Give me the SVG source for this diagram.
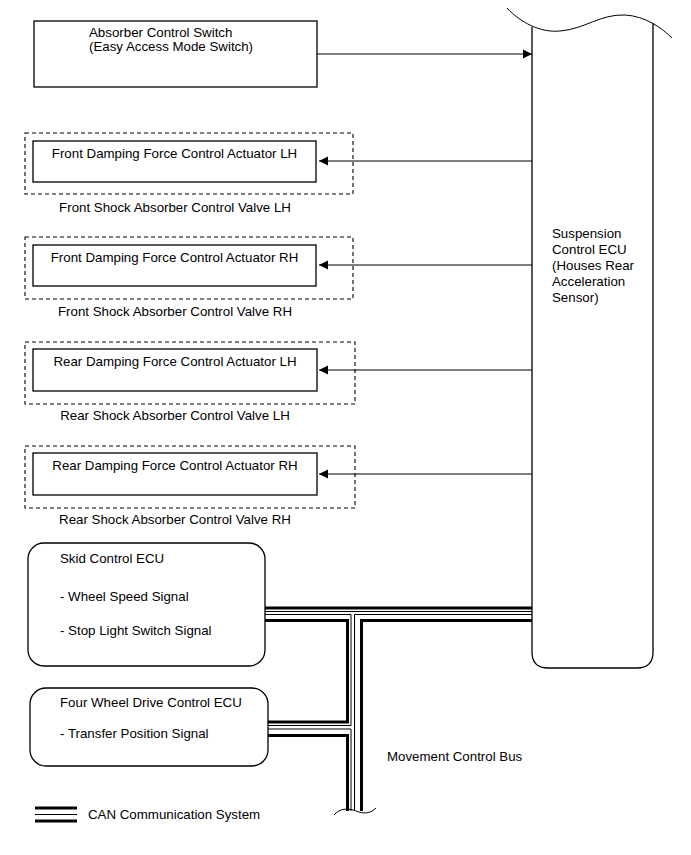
<svg xmlns="http://www.w3.org/2000/svg" width="691" height="855" viewBox="0 0 691 855">
<style>
text{font-family:"Liberation Sans",Arial,sans-serif;font-size:13.3px;fill:#000}
.box{fill:#fff;stroke:#000;stroke-width:1.3}
.dash{fill:none;stroke:#000;stroke-width:1.1;stroke-dasharray:4 3}
.ln{fill:none;stroke:#000;stroke-width:1}
.thick{fill:none;stroke:#000;stroke-width:3}
.thin{fill:none;stroke:#000;stroke-width:1}
.mid{text-anchor:middle}
</style>
<defs>
<marker id="ah" markerWidth="10" markerHeight="10" refX="9" refY="5" orient="auto" markerUnits="userSpaceOnUse">
<path d="M0,0.5 L9,5 L0,9.5 Z" fill="#000"/>
</marker>
</defs>
<rect width="691" height="855" fill="#fff"/>

<g id="switch">
<rect class="box" x="34" y="21" width="283" height="66"/>
<text x="89" y="37">Absorber Control Switch</text>
<text x="89" y="51">(Easy Access Mode Switch)</text>
</g>

<g id="ecu">
<path class="box" d="M532,27 L532,652 Q532,668 548,668 L637,668 Q653,668 653,652 L653,23"/>
<path class="ln" d="M507,8 C520,22 540,33 560,31 C585,29 600,14 625,15 C645,16 662,28 672,38"/>
<text x="552" y="238">Suspension</text>
<text x="552" y="254">Control ECU</text>
<text x="552" y="270">(Houses Rear</text>
<text x="552" y="286">Acceleration</text>
<text x="552" y="302">Sensor)</text>
</g>

<g id="front-lh">
<rect class="dash" x="25" y="133" width="328" height="61"/>
<rect class="box" x="33" y="141" width="283" height="41"/>
<text class="mid" x="174.5" y="158">Front Damping Force Control Actuator LH</text>
<text class="mid" x="175" y="212">Front Shock Absorber Control Valve LH</text>
</g>

<g id="front-rh">
<rect class="dash" x="25" y="237" width="328" height="62"/>
<rect class="box" x="33" y="245" width="283" height="41"/>
<text class="mid" x="174.5" y="262">Front Damping Force Control Actuator RH</text>
<text class="mid" x="175" y="316">Front Shock Absorber Control Valve RH</text>
</g>

<g id="rear-lh">
<rect class="dash" x="25" y="342" width="330" height="62"/>
<rect class="box" x="33" y="349" width="284" height="42"/>
<text class="mid" x="175" y="366">Rear Damping Force Control Actuator LH</text>
<text class="mid" x="175" y="420">Rear Shock Absorber Control Valve LH</text>
</g>

<g id="rear-rh">
<rect class="dash" x="25" y="446" width="330" height="62"/>
<rect class="box" x="33" y="453" width="284" height="42"/>
<text class="mid" x="175" y="470">Rear Damping Force Control Actuator RH</text>
<text class="mid" x="175" y="524">Rear Shock Absorber Control Valve RH</text>
</g>

<g id="skid">
<rect class="box" x="28" y="543" width="237" height="123" rx="16" ry="16"/>
<text x="60" y="563">Skid Control ECU</text>
<text x="60" y="601">- Wheel Speed Signal</text>
<text x="60" y="635">- Stop Light Switch Signal</text>
</g>

<g id="fwd">
<rect class="box" x="30" y="688" width="238" height="78" rx="16" ry="16"/>
<text x="60" y="707">Four Wheel Drive Control ECU</text>
<text x="60" y="738">- Transfer Position Signal</text>
</g>

<g id="connectors">
<line class="ln" x1="317" y1="54" x2="532" y2="54" marker-end="url(#ah)"/>
<line class="ln" x1="532" y1="161" x2="319" y2="161" marker-end="url(#ah)"/>
<line class="ln" x1="532" y1="265" x2="319" y2="265" marker-end="url(#ah)"/>
<line class="ln" x1="532" y1="370" x2="319" y2="370" marker-end="url(#ah)"/>
<line class="ln" x1="532" y1="474" x2="319" y2="474" marker-end="url(#ah)"/>

<!-- horizontal bus -->
<line class="thick" x1="265" y1="608" x2="532" y2="608"/>
<line class="thin" x1="265" y1="611.5" x2="532" y2="611.5"/>
<path class="thin" d="M265,614.5 H351 V725.5 H268"/>
<path class="thin" d="M532,614.5 H354.5 V811"/>
<path class="thick" d="M265,620.5 H347.5 V722 H268"/>
<path class="thick" d="M532,620.5 H361.5 V811"/>
<!-- lower branch -->
<path class="thin" d="M268,729 H351 V811"/>
<path class="thick" d="M268,735.5 H347.5 V811"/>
<path class="ln" d="M334,815 C340,808 348,808 356,811 C363,814 370,814 376,808"/>
</g>

<text x="387" y="761">Movement Control Bus</text>

<g id="legend">
<line class="thick" x1="35" y1="808" x2="77" y2="808"/>
<line class="thin" x1="35" y1="814.5" x2="77" y2="814.5"/>
<line class="thick" x1="35" y1="821" x2="77" y2="821"/>
<text x="88" y="819">CAN Communication System</text>
</g>
</svg>
